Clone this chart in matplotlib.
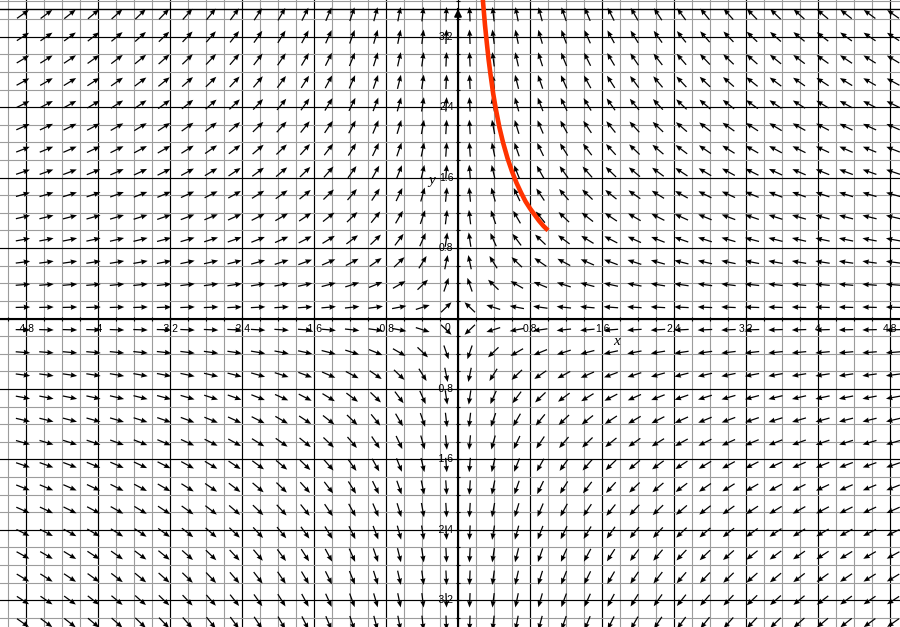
import matplotlib
matplotlib.use("Agg")
import matplotlib.pyplot as plt
import numpy as np
from matplotlib.ticker import MultipleLocator

plt.rcParams['axes.unicode_minus'] = False

# ---- data ----
# arrow grid (cell-centred, symmetric about the axes)
col_step = 0.2613
row_step = 0.256
col_index = np.arange(-19, 19) + 0.5
row_index = np.arange(-14, 14) + 0.5
x_cols = col_index * col_step
y_rows = row_index * row_step

# solution curve (x*y = 1 branch through (1, 1))
curve_x = [1.00, 0.95, 0.90, 0.85, 0.80, 0.75, 0.70, 0.65, 0.60, 0.55, 0.50,
           0.46, 0.42, 0.39, 0.36, 0.34, 0.32, 0.30, 0.29, 0.28, 0.27]
curve_y = [1.00, 1.05, 1.11, 1.18, 1.25, 1.33, 1.43, 1.54, 1.67, 1.82, 2.00,
           2.17, 2.38, 2.56, 2.78, 2.94, 3.13, 3.33, 3.45, 3.57, 3.70]

x_ticks = [-4.8, -4.0, -3.2, -2.4, -1.6, -0.8, 0.8, 1.6, 2.4, 3.2, 4.0, 4.8]
x_tick_labels = ["-4.8", "-4", "-3.2", "-2.4", "-1.6", "-0.8",
                 "0.8", "1.6", "2.4", "3.2", "4", "4.8"]
y_ticks = [-3.2, -2.4, -1.6, -0.8, 0.8, 1.6, 2.4, 3.2]
y_tick_labels = ["-3.2", "-2.4", "-1.6", "-0.8", "0.8", "1.6", "2.4", "3.2"]

# ---- figure ----
fig = plt.figure(figsize=(9, 6.27), dpi=100)
ax = fig.add_axes([0, 0, 1, 1])
ax.set_xlim(-5.089, 4.911)
ax.set_ylim(-3.503, 3.617)
top_frame = 3.515

for axis in (ax.xaxis, ax.yaxis):
    axis.set_major_locator(MultipleLocator(0.8))
    axis.set_minor_locator(MultipleLocator(0.2))
ax.grid(which='minor', color='#9c9c9c', lw=0.8)
ax.grid(which='major', color='black', lw=0.85)
ax.set_axisbelow(True)

for s in ('top', 'right'):
    ax.spines[s].set_visible(False)
ax.spines['left'].set_position(('data', 0))
ax.spines['bottom'].set_position(('data', 0))
ax.spines['left'].set_linewidth(1.5)
ax.spines['bottom'].set_linewidth(1.5)
ax.spines['left'].set_bounds(-3.503, top_frame)
ax.tick_params(which='major', direction='inout', length=5, width=0.8)
ax.tick_params(which='minor', direction='inout', length=3.5, width=0.8)
ax.tick_params(which='both', labelbottom=False, labelleft=False)

ax.axhline(top_frame, color='black', lw=1.0, zorder=2)

# direction field
X, Y = np.meshgrid(x_cols, y_rows)
U = -X
V = Y
M = np.hypot(U, V)
ax.quiver(X, Y, U / M, V / M, angles='xy', scale_units='dots', scale=1 / 14.5,
          units='dots', width=1.25, headwidth=4.2, headlength=5.2,
          headaxislength=4.8, pivot='middle', color='black', zorder=4)

# solution curve
ax.plot(curve_x, curve_y, color='#ff3300', lw=3.3, zorder=5,
        solid_capstyle='butt')

# y-axis arrow head
ax.annotate('', xy=(0, top_frame), xytext=(0, top_frame - 0.12),
            arrowprops=dict(arrowstyle='-|>', color='black', lw=1.2,
                            mutation_scale=11, shrinkA=0, shrinkB=0),
            zorder=6)

lab_font = dict(fontsize=7.5, family='Liberation Sans', zorder=6)
for v, t in zip(x_ticks, x_tick_labels):
    ax.annotate(t, xy=(v, 0), xytext=(0, -10.5), textcoords='offset pixels',
                ha='center', va='center', **lab_font)
for v, t in zip(y_ticks, y_tick_labels):
    ax.annotate(t, xy=(0, v), xytext=(-4.5, 0), textcoords='offset pixels',
                ha='right', va='center', **lab_font)
ax.annotate("0", xy=(0, 0), xytext=(-8, -9.5), textcoords='offset pixels',
            ha='right', va='center', **lab_font)

ax.text(1.763, -0.301, "x", fontsize=11, family='Liberation Serif',
        style='italic', ha='center', va='baseline', zorder=6)
ax.text(-0.292, 1.527, "y", fontsize=11, family='Liberation Serif',
        style='italic', ha='center', va='baseline', zorder=6)

fig.savefig("out.png", dpi=100)
